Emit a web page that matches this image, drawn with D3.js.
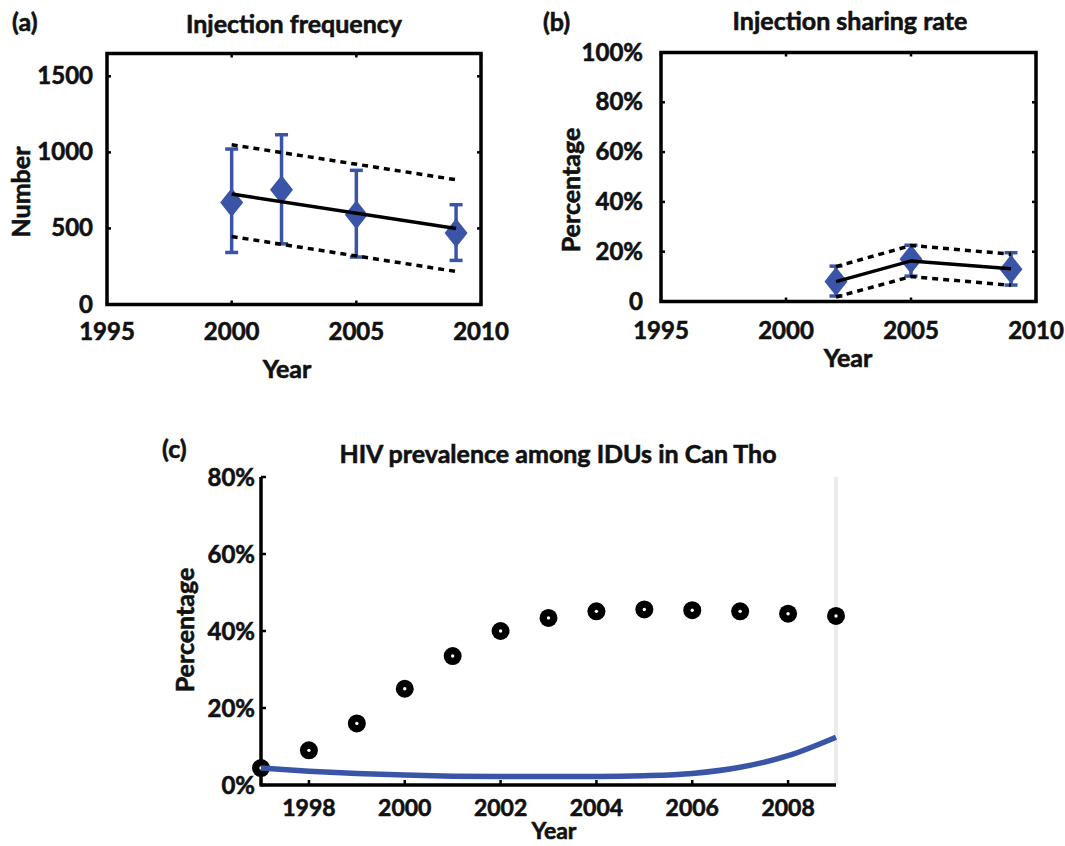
<!DOCTYPE html>
<html><head><meta charset="utf-8">
<script src="https://cdn.jsdelivr.net/npm/d3@7"></script>
<style>body{margin:0;background:#fff}svg{display:block}text{font-family:Lato,"Open Sans",sans-serif;font-weight:bold;fill:#111;stroke:#111;stroke-width:0.6px}</style>
</head><body><svg id="c" width="1065" height="846"></svg>
<script>
// Panel (a) Injection frequency
const aYears = [2000, 2002, 2005, 2009];
const aMean = [670, 755, 590, 470];
const aLow = [342, 399, 312, 290];
const aHigh = [1022, 1116, 882, 656];
const aFitYears = [2000, 2009];
const aFit = [726, 500];
const aFitLow = [447, 217];
const aFitHigh = [1050, 820];
const aXTicks = [1995, 2000, 2005, 2010];
const aYTicks = [0, 500, 1000, 1500];

// Panel (b) Injection sharing rate
const bYears = [2002, 2005, 2009];
const bMean = [8, 17, 13];
const bLow = [2.2, 10.2, 6.6];
const bHigh = [14.2, 22.6, 19.6];
const bFit = [8, 16.3, 13.2];
const bFitLow = [1.8, 10, 6.5];
const bFitHigh = [14, 22.5, 19];
const bXTicks = [1995, 2000, 2005, 2010];
const bYTicks = [0, 20, 40, 60, 80, 100];

// Panel (c) HIV prevalence among IDUs in Can Tho
const cYears = [1997, 1998, 1999, 2000, 2001, 2002, 2003, 2004, 2005, 2006, 2007, 2008, 2009];
const cObserved = [4.4, 9.0, 16.0, 25.0, 33.5, 40.0, 43.4, 45.1, 45.6, 45.4, 45.1, 44.5, 43.9];
const cModel = [4.4, 3.6, 3.0, 2.6, 2.3, 2.2, 2.2, 2.2, 2.4, 3.0, 4.6, 7.6, 12.4];
const cXTicks = [1998, 2000, 2002, 2004, 2006, 2008];
const cYTicks = [0, 20, 40, 60, 80];

const BLUE = "#3a55a7";
const svg = d3.select("#c");

function txt(x, y, s, size, anchor, rot) {
  const t = svg.append("text").attr("x", x).attr("y", y).text(s)
    .attr("font-size", size).attr("text-anchor", anchor || "middle");
  if (rot) t.attr("transform", `rotate(${rot},${x},${y})`);
  return t;
}

function boxPanel(cfg) {
  const {x, y} = cfg;
  const g = svg.append("g");
  const [x0, x1] = x.range(), [y0, y1] = y.range();
  cfg.xTicks.forEach(v => {
    g.append("line").attr("x1", x(v)).attr("x2", x(v)).attr("y1", y0).attr("y2", y0 - 4).attr("stroke", "#000").attr("stroke-width", 2.5);
    g.append("line").attr("x1", x(v)).attr("x2", x(v)).attr("y1", y1).attr("y2", y1 + 4).attr("stroke", "#000").attr("stroke-width", 2.5);
    txt(x(v), cfg.xLabY, String(v), 24);
  });
  cfg.yTicks.forEach(v => {
    g.append("line").attr("x1", x0).attr("x2", x0 + 4).attr("y1", y(v)).attr("y2", y(v)).attr("stroke", "#000").attr("stroke-width", 2.5);
    g.append("line").attr("x1", x1).attr("x2", x1 - 4).attr("y1", y(v)).attr("y2", y(v)).attr("stroke", "#000").attr("stroke-width", 2.5);
    txt(x0 - cfg.yLabGap, y(v) + 8, cfg.yFmt(v), 24, "end");
  });
  g.append("rect").attr("x", x0).attr("y", y1).attr("width", x1 - x0).attr("height", y0 - y1)
    .attr("fill", "none").attr("stroke", "#000").attr("stroke-width", 3.5);

  const line = d3.line().x(d => x(d[0])).y(d => y(d[1]));
  cfg.years.forEach((yr, i) => {
    const cx = x(yr);
    g.append("line").attr("x1", cx).attr("x2", cx).attr("y1", y(cfg.low[i])).attr("y2", y(cfg.high[i])).attr("stroke", BLUE).attr("stroke-width", 3.5);
    [cfg.low[i], cfg.high[i]].forEach(v => g.append("line").attr("x1", cx - 6.5).attr("x2", cx + 6.5).attr("y1", y(v)).attr("y2", y(v)).attr("stroke", BLUE).attr("stroke-width", 3.5));
    const cy = y(cfg.mean[i]);
    g.append("path").attr("d", `M${cx},${cy - 14.5}L${cx + 11.5},${cy}L${cx},${cy + 14.5}L${cx - 11.5},${cy}Z`).attr("fill", BLUE);
  });
  const fy = cfg.fitYears;
  g.append("path").datum(fy.map((v, i) => [v, cfg.fitHigh[i]])).attr("d", line).attr("fill", "none").attr("stroke", "#000").attr("stroke-width", 3.5).attr("stroke-dasharray", "6,5");
  g.append("path").datum(fy.map((v, i) => [v, cfg.fitLow[i]])).attr("d", line).attr("fill", "none").attr("stroke", "#000").attr("stroke-width", 3.5).attr("stroke-dasharray", "6,5");
  g.append("path").datum(fy.map((v, i) => [v, cfg.fit[i]])).attr("d", line).attr("fill", "none").attr("stroke", "#000").attr("stroke-width", 3.5);
}

// (a)
boxPanel({
  x: d3.scaleLinear().domain([1995, 2010]).range([107, 481]),
  y: d3.scaleLinear().domain([0, 1650]).range([304.5, 53.5]),
  xTicks: aXTicks, yTicks: aYTicks, xLabY: 340, yLabGap: 14, yFmt: v => String(v),
  years: aYears, mean: aMean, low: aLow, high: aHigh,
  fitYears: aFitYears, fit: aFitYears.map((_, i) => aFit[i]), fitLow: aFitLow, fitHigh: aFitHigh
});
txt(12, 31, "(a)", 25, "start");
txt(294, 33, "Injection frequency", 25);
txt(287, 378, "Year", 25);
txt(30, 192, "Number", 25, "middle", -90);

// (b)
boxPanel({
  x: d3.scaleLinear().domain([1995, 2010]).range([661, 1036]),
  y: d3.scaleLinear().domain([0, 100]).range([301.5, 52.5]),
  xTicks: bXTicks, yTicks: bYTicks, xLabY: 339, yLabGap: 18, yFmt: v => v === 0 ? "0" : v + "%",
  years: bYears, mean: bMean, low: bLow, high: bHigh,
  fitYears: bYears, fit: bFit, fitLow: bFitLow, fitHigh: bFitHigh
});
txt(543, 31, "(b)", 25, "start");
txt(850, 30, "Injection sharing rate", 25);
txt(848, 367, "Year", 25);
txt(580, 190, "Percentage", 25, "middle", -90);

// (c)
{
  const x = d3.scaleLinear().domain([1997, 2009]).range([261, 836]);
  const y = d3.scaleLinear().domain([0, 80]).range([785, 477]);
  const g = svg.append("g");
  g.append("line").attr("x1", 836).attr("x2", 836).attr("y1", y(80)).attr("y2", y(0)).attr("stroke", "#d8d8d8").attr("stroke-width", 3);
  g.append("line").attr("x1", 836).attr("x2", 836).attr("y1", y(80)).attr("y2", y(0)).attr("stroke", "#fff").attr("stroke-width", 1);
  g.append("line").attr("x1", x(1997)).attr("x2", x(1997)).attr("y1", y(80)).attr("y2", y(0)).attr("stroke", "#000").attr("stroke-width", 3.5);
  g.append("line").attr("x1", x(1997) - 1.5).attr("x2", x(2009)).attr("y1", y(0)).attr("y2", y(0)).attr("stroke", "#000").attr("stroke-width", 3.5);
  cYTicks.forEach(v => {
    g.append("line").attr("x1", x(1997)).attr("x2", x(1997) + 5).attr("y1", y(v)).attr("y2", y(v)).attr("stroke", "#000").attr("stroke-width", 2.5);
    txt(255, y(v) + 9, v + "%", 24, "end");
  });
  cXTicks.forEach(v => {
    g.append("line").attr("x1", x(v)).attr("x2", x(v)).attr("y1", y(0)).attr("y2", y(0) - 5).attr("stroke", "#000").attr("stroke-width", 2.5);
    txt(x(v), 816, String(v), 23);
  });
  cYears.forEach((yr, i) => {
    g.append("circle").attr("cx", x(yr)).attr("cy", y(cObserved[i])).attr("r", 9).attr("fill", "#000");
    g.append("circle").attr("cx", x(yr)).attr("cy", y(cObserved[i])).attr("r", 1.7).attr("fill", "#fff");
  });
  g.append("path").datum(cYears.map((v, i) => [v, cModel[i]]))
    .attr("d", d3.line().x(d => x(d[0])).y(d => y(d[1])).curve(d3.curveMonotoneX))
    .attr("fill", "none").attr("stroke", BLUE).attr("stroke-width", 5.5);
  txt(162, 458, "(c)", 25, "start");
  txt(558, 463, "HIV prevalence among IDUs in Can Tho", 25);
  txt(554, 839, "Year", 23);
  txt(194, 630, "Percentage", 25, "middle", -90);
}
</script></body></html>
